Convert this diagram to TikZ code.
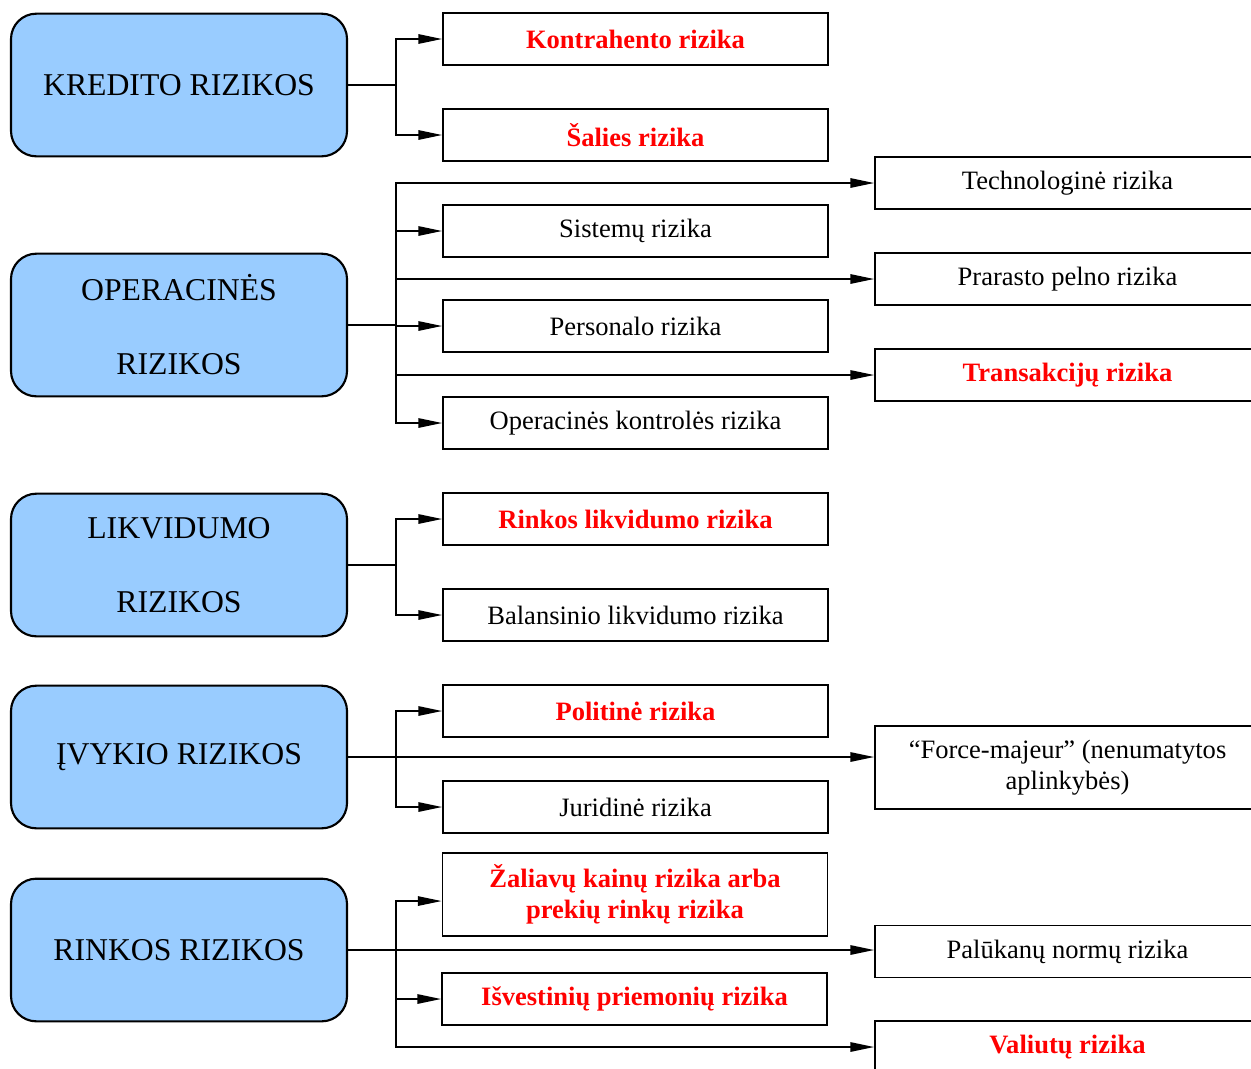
\documentclass[tikz,border=0pt]{standalone}
\usepackage{fontspec}
\setmainfont{Liberation Serif}
\usetikzlibrary{arrows.meta}
\definecolor{groupblue}{HTML}{99CCFF}

\begin{document}
\begin{tikzpicture}[x=0.75pt, y=-0.75pt,
	group/.style={draw, rounded corners=19pt, fill=groupblue, line width=1.6pt, minimum width=252pt, minimum height=107pt, align=center, font=\fontsize{23.8}{55.5}\selectfont},
	risk/.style={draw, line width=1.1pt, minimum width=288.75pt, minimum height=39pt, inner sep=0pt, align=center, font=\fontsize{19.9}{23.3}\selectfont},
	key/.style={risk, text=red, font=\bfseries\fontsize{19.9}{23.3}\selectfont},
	link/.style={line width=1.5pt},
	arrow/.style={link, -{Triangle[length=18pt, width=7pt]}}]
			\path[use as bounding box] (0,0) rectangle (1251,1068);
			\clip (0,0) rectangle (1251,1068);
			% Groups
			\node[group] (kred) at (179,85) {KREDITO RIZIKOS};
			\node[group] (oper) at (179,325) {OPERACINĖS\\RIZIKOS};
			\node[group] (likv) at (179,565) {LIKVIDUMO\\RIZIKOS};
			\node[group] (ivyk) at (179,757) {ĮVYKIO RIZIKOS};
			\node[group] (rink) at (179,950) {RINKOS RIZIKOS};
			% Middle column
			\node[key] (kontr) at (635.5,39) {Kontrahento rizika};
			\node[key] (sal) at (635.5,135) {Šalies rizika};
			\node[risk] (sist) at (635.5,231) {Sistemų rizika};
			\node[risk] (pers) at (635.5,326) {Personalo rizika};
			\node[risk] (okont) at (635.5,423) {Operacinės kontrolės rizika};
			\node[key] (rlikv) at (635.5,519) {Rinkos likvidumo rizika};
			\node[risk] (bal) at (635.5,615) {Balansinio likvidumo rizika};
			\node[key] (polit) at (635.5,711) {Politinė rizika};
			\node[risk] (jur) at (635.5,807) {Juridinė rizika};
			\node[key, minimum height=62.25pt] (zal) at (635,894.5) {Žaliavų kainų rizika arba\\prekių rinkų rizika};
			\node[key] (isv) at (634.5,999) {Išvestinių priemonių rizika};
			\coordinate (zalin) at ([yshift=-4.9pt]zal.west);
			% Right column
			\node[risk] (tech) at (1067.5,183) {Technologinė rizika};
			\node[risk] (prar) at (1067.5,279) {Prarasto pelno rizika};
			\node[key] (trans) at (1067.5,375) {Transakcijų rizika};
			\node[risk, minimum height=62.25pt] (force) at (1067.5,767.5) {“Force-majeur” (nenumatytos\\aplinkybės)};
			\node[risk] (palu) at (1067.5,951.5) {Palūkanų normų rizika};
			\node[key] (val) at (1067.5,1047) {Valiutų rizika};
			% Connectors
			\foreach \g/\t in {kred/kontr, kred/sal, oper/tech, oper/sist, oper/prar, oper/pers, oper/trans, oper/okont, likv/rlikv, likv/bal, ivyk/polit, ivyk/jur, rink/zalin, rink/isv, rink/val} {
				\draw[arrow] (\g.east) -- ++(36pt,0) |- (\t.west);
			}
			\draw[arrow] (ivyk.east) -- (ivyk.east -| force.west);
			\draw[arrow] (rink.east) -- (rink.east -| palu.west);
		\end{tikzpicture}
\end{document}
